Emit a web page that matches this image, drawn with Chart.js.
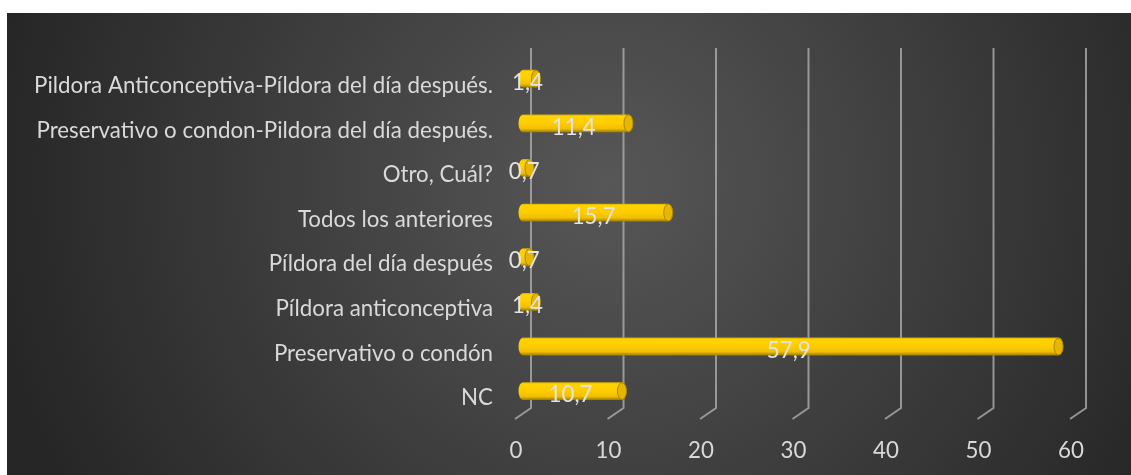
<!DOCTYPE html>
<html lang="es">
<head>
<meta charset="utf-8">
<title>Métodos anticonceptivos</title>
<script src="https://cdn.jsdelivr.net/npm/chart.js@4.4.1/dist/chart.umd.min.js"></script>
<style>
  html, body { margin: 0; padding: 0; background: #ffffff; }
  #wrap { position: absolute; left: 7px; top: 13px; width: 1124px; height: 462px; }
</style>
</head>
<body>
<div id="wrap"><canvas id="metodosChart"></canvas></div>
<script>
// categories listed top to bottom
const categories = [
    'Pildora Anticonceptiva-Píldora del día después.',
    'Preservativo o condon-Pildora del día después.',
    'Otro, Cuál?',
    'Todos los anteriores',
    'Píldora del día después',
    'Píldora anticonceptiva',
    'Preservativo o condón',
    'NC'
];
const percentages = [1.4, 11.4, 0.7, 15.7, 0.7, 1.4, 57.9, 10.7];
const axisMin = 0;
const axisMax = 60;
const axisStep = 10;

const FONT = 'Lato, "Noto Sans", sans-serif';
const FONT_SIZE = 22.3;
const TEXT = '#d9d9d9';

// depth offsets for the fake 3D floor/walls
const BACK_DX = 8, FRONT_DX = -8;
const WALL_TOP = 35, WALL_BOTTOM = 395, FLOOR_FRONT = 406;

const formatValue = v => v.toFixed(1).replace('.', ',');

// dark radial background
const backgroundPlugin = {
    id: 'darkBackground',
    beforeDraw(chart) {
        const { ctx, width, height } = chart;
        const g = ctx.createRadialGradient(600, 170, 0, 600, 170, 620);
        g.addColorStop(0, '#575757');
        g.addColorStop(1, '#262626');
        ctx.save();
        ctx.fillStyle = g;
        ctx.fillRect(0, 0, width, height);
        ctx.restore();
    }
};

// vertical gridlines with a short slanted foot (3D look)
const wallGridPlugin = {
    id: 'wallGrid',
    beforeDatasetsDraw(chart) {
        const { ctx } = chart;
        const xScale = chart.scales.x;
        ctx.save();
        ctx.strokeStyle = 'rgba(175,175,175,0.78)';
        ctx.lineWidth = 2;
        xScale.ticks.forEach(t => {
            const px = xScale.getPixelForValue(t.value);
            ctx.beginPath();
            ctx.moveTo(px + BACK_DX, WALL_TOP);
            ctx.lineTo(px + BACK_DX, WALL_BOTTOM);
            ctx.lineTo(px + FRONT_DX, FLOOR_FRONT);
            ctx.stroke();
        });
        ctx.restore();
    }
};

// draws each bar as a yellow cylinder plus its value label
const cylinderPlugin = {
    id: 'cylinders',
    afterDatasetsDraw(chart) {
        const { ctx } = chart;
        const meta = chart.getDatasetMeta(0);
        const values = chart.data.datasets[0].data;
        ctx.save();
        meta.data.forEach((bar, i) => {
            const { x, y, base, height } = bar.getProps(['x', 'y', 'base', 'height'], true);
            const top = y - height / 2, bottom = y + height / 2;
            const rx = 4.5, ry = height / 2;

            const g = ctx.createLinearGradient(0, top, 0, bottom);
            g.addColorStop(0, '#d4a800');
            g.addColorStop(0.1, '#ffd400');
            g.addColorStop(0.5, '#ffcc00');
            g.addColorStop(0.8, '#f0bf00');
            g.addColorStop(1, '#9c7c00');

            ctx.beginPath();
            ctx.moveTo(base, top);
            ctx.lineTo(x, top);
            ctx.ellipse(x, y, rx, ry, 0, -Math.PI / 2, Math.PI / 2, false);
            ctx.lineTo(base, bottom);
            ctx.ellipse(base, y, rx, ry, 0, Math.PI / 2, Math.PI * 1.5, false);
            ctx.closePath();
            ctx.fillStyle = g;
            ctx.fill();

            // end cap
            ctx.beginPath();
            ctx.ellipse(x, y, rx, ry - 0.5, 0, 0, Math.PI * 2);
            ctx.fillStyle = '#e6b600';
            ctx.fill();
            ctx.strokeStyle = '#a88600';
            ctx.lineWidth = 1;
            ctx.stroke();

            // value label centred on the bar
            ctx.font = FONT_SIZE + 'px ' + FONT;
            ctx.fillStyle = '#e3e3e3';
            ctx.textAlign = 'center';
            ctx.textBaseline = 'middle';
            ctx.fillText(formatValue(values[i]), (base + x) / 2 - 2, y + 4);
        });
        ctx.restore();
    }
};

new Chart(document.getElementById('metodosChart'), {
    type: 'bar',
    data: {
        labels: categories,
        datasets: [{
            data: percentages,
            backgroundColor: 'rgba(0,0,0,0)',
            borderWidth: 0,
            barPercentage: 0.4,
            categoryPercentage: 1.0
        }]
    },
    options: {
        indexAxis: 'y',
        responsive: true,
        maintainAspectRatio: false,
        animation: false,
        layout: { padding: { top: 41, right: 53, bottom: 0, left: 0 } },
        plugins: {
            legend: { display: false },
            tooltip: { enabled: false }
        },
        scales: {
            x: {
                min: axisMin,
                max: axisMax,
                ticks: {
                    stepSize: axisStep,
                    color: TEXT,
                    font: { family: FONT, size: FONT_SIZE },
                    padding: 24,
                    labelOffset: -7,
                    maxRotation: 0
                },
                grid: { display: false, drawTicks: false },
                border: { display: false },
                afterFit(scale) { scale.height = 61.6; }
            },
            y: {
                ticks: {
                    color: TEXT,
                    font: { family: FONT, size: FONT_SIZE },
                    padding: 30,
                    labelOffset: 7,
                    autoSkip: false
                },
                grid: { display: false, drawTicks: false },
                border: { display: false },
                afterFit(scale) { scale.width = 516; }
            }
        }
    },
    plugins: [backgroundPlugin, wallGridPlugin, cylinderPlugin]
});
</script>
</body>
</html>
